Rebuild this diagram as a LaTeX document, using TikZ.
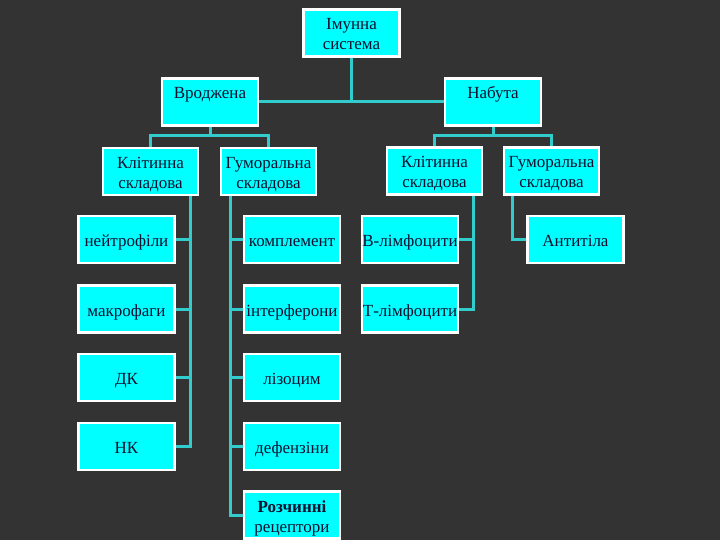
\documentclass[tikz,border=0pt]{standalone}
\usepackage{fontspec}
\setmainfont{Liberation Serif}
\usetikzlibrary{calc}
\pgfdeclarelayer{bgl}
\pgfdeclarelayer{lines}
\pgfsetlayers{bgl,lines,main}
\definecolor{bg}{HTML}{333333}
\definecolor{boxfill}{HTML}{00FFFF}
\definecolor{conncol}{HTML}{33CCCC}
\definecolor{txt}{HTML}{101030}
\newcommand{\bxt}[1]{\raisebox{-3pt}[\height][\depth]{\begin{tabular}{@{}c@{}}#1\end{tabular}}}
\tikzset{
  box/.style={draw=white, line width=2.8pt, fill=boxfill, inner sep=0pt,
    minimum width=96pt, minimum height=47pt, align=center, text=txt,
    font=\fontsize{17}{20}\selectfont},
  conn/.style={draw=conncol, line width=3pt}
}
\begin{document}
\begin{tikzpicture}[x=1pt,y=-1pt]
\begin{pgfonlayer}{bgl}
\fill[bg] (0,0) rectangle (720,540);
\end{pgfonlayer}
\useasboundingbox (0,0) rectangle (720,540);
\coordinate (lj) at (0,136);
\node[box] (imm) at (351.5,33) {\bxt{Імунна\\система}};
\node[box] (vrod) at (210,102) {\bxt{Вроджена\\\mbox{}}};
\node[box] (nab) at (493,102) {\bxt{Набута\\\mbox{}}};
\node[box, minimum width=95pt] (kl1) at (150.5,171.5) {\bxt{Клітинна\\складова}};
\node[box, minimum width=95pt] (gum1) at (268.5,171.5) {\bxt{Гуморальна\\складова}};
\node[box, minimum width=95pt] (kl2) at (434.5,171) {\bxt{Клітинна\\складова}};
\node[box, minimum width=95pt] (gum2) at (551.5,171) {\bxt{Гуморальна\\складова}};
% column A
\node[box] (neut) at (126.5,239.5) {\bxt{нейтрофіли}};
\node[box] (makr) at (126.5,309) {\bxt{макрофаги}};
\node[box] (dk) at (126.5,377.5) {\bxt{ДК}};
\node[box] (nk) at (126.5,446.5) {\bxt{НК}};
% column B
\node[box] (kompl) at (292,239.5) {\bxt{комплемент}};
\node[box] (interf) at (292,309) {\bxt{інтерферони}};
\node[box] (lizo) at (292,377.5) {\bxt{лізоцим}};
\node[box] (def) at (292,446.5) {\bxt{дефензіни}};
\node[box] (rozch) at (292,515) {\bxt{\textbf{Розчинні}\\рецептори}};
% column C
\node[box] (blim) at (410,239.5) {\bxt{В-лімфоцити}};
\node[box] (tlim) at (410,309) {\bxt{Т-лімфоцити}};
% column D
\node[box] (anti) at (575.5,239.5) {\bxt{Антитіла}};
\begin{pgfonlayer}{lines}
\draw[conn] (imm.south) -- (imm.south |- vrod.east);
\draw[conn] (vrod.east) -- (nab.west);
\draw[conn] (vrod.south) -- (vrod.south |- lj) -| (kl1.north);
\draw[conn] (vrod.south |- lj) -| (gum1.north);
\draw[conn] (nab.south) -- (nab.south |- lj) -| (kl2.north);
\draw[conn] (nab.south |- lj) -| (gum2.north);
\draw[conn] ([xshift=-9pt]kl1.south east) |- (neut.east);
\draw[conn] ([xshift=-9pt]kl1.south east) |- (makr.east);
\draw[conn] ([xshift=-9pt]kl1.south east) |- (dk.east);
\draw[conn] ([xshift=-9pt]kl1.south east) |- (nk.east);
\draw[conn] ([xshift=11pt]gum1.south west) |- (kompl.west);
\draw[conn] ([xshift=11pt]gum1.south west) |- (interf.west);
\draw[conn] ([xshift=11pt]gum1.south west) |- (lizo.west);
\draw[conn] ([xshift=11pt]gum1.south west) |- (def.west);
\draw[conn] ([xshift=11pt]gum1.south west) |- (rozch.west);
\draw[conn] ([xshift=-10pt]kl2.south east) |- (blim.east);
\draw[conn] ([xshift=-10pt]kl2.south east) |- (tlim.east);
\draw[conn] ([xshift=10pt]gum2.south west) |- (anti.west);
\end{pgfonlayer}
\end{tikzpicture}
\end{document}
